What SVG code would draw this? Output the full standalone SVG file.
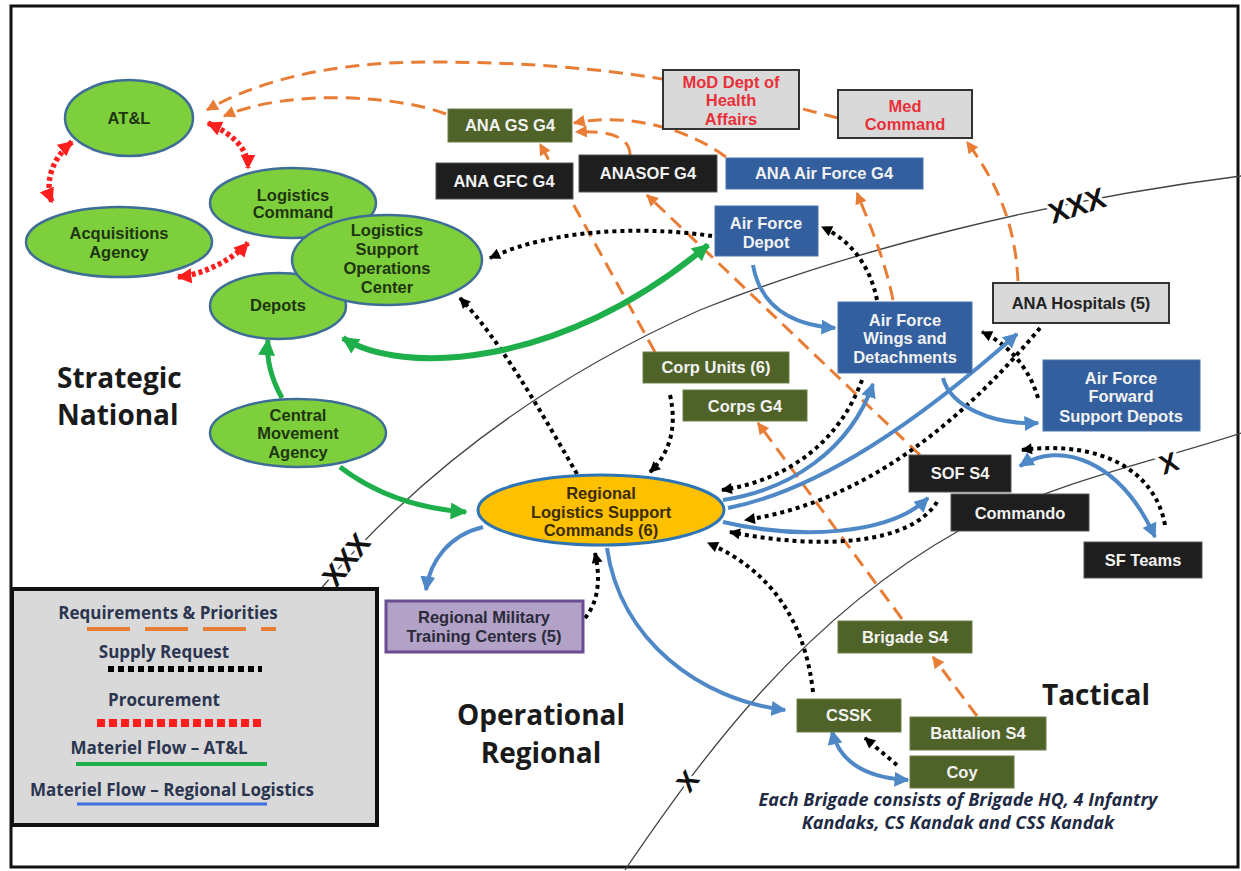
<svg xmlns="http://www.w3.org/2000/svg" width="1241" height="871" viewBox="0 0 1241 871">
<style>
.frame{fill:#fff;stroke:#111;stroke-width:3}
.bound{fill:none;stroke:#444;stroke-width:1.3}
.xl{font-family:"Liberation Sans",Arial,sans-serif;font-weight:bold;fill:#111;stroke:#fff;stroke-width:6;paint-order:stroke;text-anchor:middle}
.req{fill:none;stroke:#E87D36;stroke-width:3;stroke-dasharray:14 8;marker-end:url(#aO)}
.sup{fill:none;stroke:#000;stroke-width:4;stroke-dasharray:4 4;marker-end:url(#aK)}
.proc{fill:none;stroke:#FF1E1E;stroke-width:5.5;stroke-dasharray:4 3;marker-end:url(#aR);marker-start:url(#aR)}
.mat{fill:none;stroke:#1FAF4A;stroke-width:5;marker-end:url(#aG)}
.reg{fill:none;stroke:#4E88C7;stroke-width:4;marker-end:url(#aB)}
.both{marker-start:url(#aB)}
.ell{fill:#7ECF3C;stroke:#3E6E96;stroke-width:2.5}
.gold{fill:#FFC000;stroke:#2E75B6;stroke-width:3}
.t{font-family:"Liberation Sans",Arial,sans-serif;font-weight:bold;font-size:16.5px;text-anchor:middle}
.et{fill:#1E3512}
.wt{fill:#F2F2F2}
.olive{fill:#4F6228;stroke:#6E7F4A;stroke-width:1}
.blk{fill:#1E1E1E;stroke:#555;stroke-width:1}
.blue{fill:#335F9E;stroke:#4A74AE;stroke-width:1}
.gray{fill:#D9D9D9;stroke:#333;stroke-width:2}
.red{fill:#E8303A}
.big{font-family:"Open Sans","Liberation Sans",sans-serif;font-weight:bold;font-size:28px;fill:#1a1a1a}
.lg{font-family:"Open Sans","Liberation Sans",sans-serif;font-weight:bold;font-size:17px;fill:#2B3550;text-anchor:middle}
.cap{font-family:"Open Sans","Liberation Sans",sans-serif;font-weight:bold;font-style:italic;font-size:18px;fill:#1F2A44;text-anchor:middle}
</style>
<defs>
<marker id="aO" viewBox="0 0 10 10" refX="9" refY="5" markerWidth="13" markerHeight="12" markerUnits="userSpaceOnUse" orient="auto"><path d="M0,0 L10,5 L0,10 z" fill="#E87D36"/></marker>
<marker id="aK" viewBox="0 0 10 10" refX="9" refY="5" markerWidth="12" markerHeight="11" markerUnits="userSpaceOnUse" orient="auto"><path d="M0,0 L10,5 L0,10 z" fill="#000"/></marker>
<marker id="aR" viewBox="0 0 10 10" refX="9" refY="5" markerWidth="15" markerHeight="15" markerUnits="userSpaceOnUse" orient="auto-start-reverse"><path d="M0,0 L10,5 L0,10 z" fill="#FF1E1E"/></marker>
<marker id="aG" viewBox="0 0 10 10" refX="9" refY="5" markerWidth="18" markerHeight="17" markerUnits="userSpaceOnUse" orient="auto-start-reverse"><path d="M0,0 L10,5 L0,10 z" fill="#1FAF4A"/></marker>
<marker id="aB" viewBox="0 0 10 10" refX="9" refY="5" markerWidth="15" markerHeight="15" markerUnits="userSpaceOnUse" orient="auto-start-reverse"><path d="M0,0 L10,5 L0,10 z" fill="#4E88C7"/></marker>
</defs>

<rect class="frame" x="11" y="6" width="1227" height="861"/>

<g id="boundaries">
<path class="bound" d="M318,592 C400,495 520,390 700,310 C850,250 1050,200 1241,176"/>
<path class="bound" d="M625,870 C700,760 800,620 960,530 C1060,480 1160,460 1241,433"/>
<text class="xl" font-size="29" transform="translate(354,566) rotate(-52)">XXX</text>
<text class="xl" font-size="29" transform="translate(1080,215) rotate(-18)">XXX</text>
<text class="xl" font-size="27" transform="translate(695,787) rotate(-52)">X</text>
<text class="xl" font-size="27" transform="translate(1172,472) rotate(-20)">X</text>
</g>

<g id="connectors">
<path class="req" d="M838,118 C720,88 620,62 430,62 C320,62 250,85 207,110"/>
<path class="req" d="M446,114 C400,96 290,88 224,116"/>
<path class="req" d="M726,157 C690,130 630,112 574,123"/>
<path class="req" d="M630,155 C630,138 612,130 576,132"/>
<path class="req" d="M655,352 L540,144"/>
<path class="req" d="M920,455 L647,195"/>
<path class="req" d="M893,300 C885,260 870,225 857,193"/>
<path class="req" d="M1018,281 C1015,220 995,180 967,142"/>
<path class="req" d="M902,619 L758,423"/>
<path class="req" d="M977,716 L933,657"/>

<path class="sup" d="M712,236 C660,228 560,225 490,258"/>
<path class="sup" d="M577,474 C540,410 500,340 460,298"/>
<path class="sup" d="M670,395 C678,430 668,455 650,472"/>
<path class="sup" d="M862,380 C840,440 790,480 722,490"/>
<path class="sup" d="M1040,328 C980,400 880,500 745,520"/>
<path class="sup" d="M1038,398 C1030,370 1010,345 982,332"/>
<path class="sup" d="M877,300 C870,265 850,240 822,227"/>
<path class="sup" d="M1165,525 C1155,470 1100,440 1022,450"/>
<path class="sup" d="M937,502 C910,545 820,550 730,532"/>
<path class="sup" d="M813,692 C805,620 770,570 708,543"/>
<path class="sup" d="M585,618 C600,600 600,575 595,553"/>
<path class="sup" d="M897,765 L865,738"/>

<path class="proc" d="M72,142 C50,160 45,185 52,202"/>
<path class="proc" d="M208,123 C235,135 248,150 248,168"/>
<path class="proc" d="M178,277 C200,275 230,262 248,243"/>

<path class="mat" d="M282,398 C272,380 266,360 268,340"/>
<path class="mat" style="marker-start:url(#aG);stroke-width:6" d="M343,338 C400,375 560,370 708,245"/>
<path class="mat" d="M340,467 C370,490 410,508 466,512"/>

<path class="reg" d="M753,265 C760,305 790,325 835,328"/>
<path class="reg" d="M943,378 C950,405 990,425 1038,423"/>
<path class="reg" d="M723,500 C790,490 850,450 873,384"/>
<path class="reg" d="M728,508 C820,490 920,420 1017,334"/>
<path class="reg" d="M723,522 C800,540 890,535 928,498"/>
<path class="reg both" d="M1020,466 C1060,440 1120,460 1155,537"/>
<path class="reg" d="M483,527 C450,535 430,560 426,590"/>
<path class="reg" d="M607,548 C620,640 700,700 785,710"/>
<path class="reg both" d="M832,731 C840,765 870,778 908,780"/>
</g>

<g id="n-atl"><ellipse class="ell" cx="129" cy="118" rx="64" ry="38"/><text class="t et" x="129" y="124">AT&amp;L</text></g>
<g id="n-acq"><ellipse class="ell" cx="119" cy="242" rx="93" ry="35"/><text class="t et" x="119" y="239">Acquisitions</text><text class="t et" x="119" y="258">Agency</text></g>
<g id="n-logcmd"><ellipse class="ell" cx="293" cy="203" rx="83" ry="35"/><text class="t et" x="293" y="201">Logistics</text><text class="t et" x="293" y="218">Command</text></g>
<g id="n-depots"><ellipse class="ell" cx="278" cy="306" rx="68" ry="33"/><text class="t et" x="278" y="311">Depots</text></g>
<g id="n-lsoc"><ellipse class="ell" cx="387" cy="260" rx="95" ry="45"/><text class="t et" x="387" y="236">Logistics</text><text class="t et" x="387" y="255">Support</text><text class="t et" x="387" y="274">Operations</text><text class="t et" x="387" y="293">Center</text></g>
<g id="n-cma"><ellipse class="ell" cx="298" cy="433" rx="88" ry="34"/><text class="t et" x="298" y="421">Central</text><text class="t et" x="298" y="439">Movement</text><text class="t et" x="298" y="458">Agency</text></g>
<g id="n-rlsc"><ellipse class="gold" cx="601" cy="510" rx="123" ry="35"/><text class="t" fill="#3A2C05" x="601" y="499">Regional</text><text class="t" fill="#3A2C05" x="601" y="518">Logistics Support</text><text class="t" fill="#3A2C05" x="601" y="536">Commands (6)</text></g>
<g id="n-rmtc"><rect x="386" y="601" width="197" height="51" fill="#B3A2C7" stroke="#6A4C93" stroke-width="3"/><text class="t" fill="#2A2A3A" x="484" y="623">Regional Military</text><text class="t" fill="#2A2A3A" x="484" y="642">Training Centers (5)</text></g>

<g id="n-gsg4"><rect class="olive" x="448" y="109" width="124" height="33"/><text class="t wt" font-size="15.5" x="510" y="131">ANA GS G4</text></g>
<g id="n-gfcg4"><rect class="blk" x="436" y="163" width="137" height="36"/><text class="t wt" x="504" y="187">ANA GFC G4</text></g>
<g id="n-sofg4"><rect class="blk" x="579" y="155" width="138" height="37"/><text class="t wt" x="648" y="179">ANASOF G4</text></g>
<g id="n-afg4"><rect class="blue" x="726" y="158" width="197" height="31"/><text class="t wt" x="824" y="179">ANA Air Force G4</text></g>
<g id="n-mod"><rect class="gray" x="663" y="70" width="136" height="59"/><text class="t red" x="731" y="88">MoD Dept of</text><text class="t red" x="731" y="106">Health</text><text class="t red" x="731" y="125">Affairs</text></g>
<g id="n-med"><rect class="gray" x="838" y="90" width="134" height="48"/><text class="t red" x="905" y="112">Med</text><text class="t red" x="905" y="130">Command</text></g>
<g id="n-afdepot"><rect class="blue" x="715" y="206" width="103" height="50"/><text class="t wt" x="766" y="229">Air Force</text><text class="t wt" x="766" y="248">Depot</text></g>
<g id="n-hosp"><rect class="gray" x="993" y="283" width="176" height="40"/><text class="t" fill="#222" x="1081" y="309">ANA Hospitals (5)</text></g>
<g id="n-afwings"><rect class="blue" x="838" y="302" width="134" height="71"/><text class="t wt" x="905" y="326">Air Force</text><text class="t wt" x="905" y="344">Wings and</text><text class="t wt" x="905" y="363">Detachments</text></g>
<g id="n-affsd"><rect class="blue" x="1043" y="360" width="157" height="71"/><text class="t wt" x="1121" y="384">Air Force</text><text class="t wt" x="1121" y="402">Forward</text><text class="t wt" x="1121" y="422">Support Depots</text></g>
<g id="n-corpunits"><rect class="olive" x="643" y="352" width="146" height="31"/><text class="t wt" x="716" y="373">Corp Units (6)</text></g>
<g id="n-corpsg4"><rect class="olive" x="683" y="390" width="124" height="31"/><text class="t wt" x="745" y="412">Corps G4</text></g>
<g id="n-sofs4"><rect class="blk" x="909" y="455" width="102" height="37"/><text class="t wt" x="960" y="479">SOF S4</text></g>
<g id="n-commando"><rect class="blk" x="951" y="494" width="138" height="37"/><text class="t wt" x="1020" y="519">Commando</text></g>
<g id="n-sfteams"><rect class="blk" x="1084" y="542" width="118" height="36"/><text class="t wt" x="1143" y="566">SF Teams</text></g>
<g id="n-brigs4"><rect class="olive" x="838" y="621" width="134" height="32"/><text class="t wt" x="905" y="643">Brigade S4</text></g>
<g id="n-cssk"><rect class="olive" x="797" y="699" width="104" height="33"/><text class="t wt" x="849" y="721">CSSK</text></g>
<g id="n-bats4"><rect class="olive" x="910" y="717" width="136" height="33"/><text class="t wt" x="978" y="739">Battalion S4</text></g>
<g id="n-coy"><rect class="olive" x="910" y="756" width="104" height="32"/><text class="t wt" x="962" y="778">Coy</text></g>

<g id="labels">
<text class="big" x="57" y="388">Strategic</text>
<text class="big" x="57" y="425">National</text>
<text class="big" x="541" y="725" text-anchor="middle">Operational</text>
<text class="big" x="541" y="763" text-anchor="middle">Regional</text>
<text class="big" x="1096" y="705" text-anchor="middle">Tactical</text>
<text class="cap" x="958" y="806">Each Brigade consists of Brigade HQ, 4 Infantry</text>
<text class="cap" x="958" y="829">Kandaks, CS Kandak and CSS Kandak</text>
</g>

<g id="legend">
<rect x="12" y="589" width="365" height="236" fill="#D9D9D9" stroke="#111" stroke-width="4"/>
<text class="lg" x="168" y="619">Requirements &amp; Priorities</text>
<line x1="87" y1="629" x2="276" y2="629" stroke="#E87D36" stroke-width="4" stroke-dasharray="43 15"/>
<text class="lg" x="164" y="658">Supply Request</text>
<line x1="108" y1="669" x2="262" y2="669" stroke="#000" stroke-width="6" stroke-dasharray="6 4"/>
<text class="lg" x="164" y="706">Procurement</text>
<line x1="97" y1="723" x2="265" y2="723" stroke="#FF1E1E" stroke-width="8" stroke-dasharray="8 4"/>
<text class="lg" x="159" y="754">Materiel Flow – AT&amp;L</text>
<line x1="76" y1="764" x2="267" y2="764" stroke="#1FAF4A" stroke-width="4"/>
<text class="lg" x="172" y="796">Materiel Flow – Regional Logistics</text>
<line x1="77" y1="804" x2="267" y2="804" stroke="#3D6FE0" stroke-width="3"/>
</g>
</svg>
